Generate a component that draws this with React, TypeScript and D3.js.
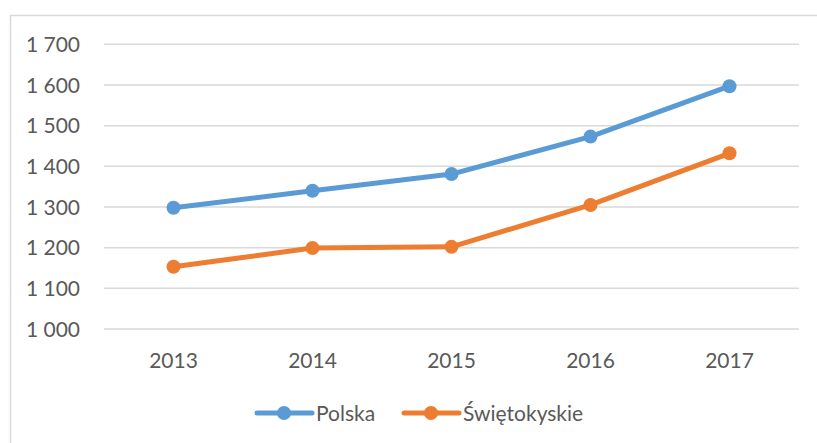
import React from "react";
import * as d3 from "d3";

const years = ["2013", "2014", "2015", "2016", "2017"];
const polska = [1298, 1340, 1381, 1473, 1597];
const swietokrzyskie = [1153, 1199, 1202, 1305, 1432];
const yTicks = [1000, 1100, 1200, 1300, 1400, 1500, 1600, 1700];
const seriesNames = ["Polska", "Świętokyskie"];
const colors = ["#5B9BD5", "#ED7D31"];

const W = 817;
const H = 443;
const plotLeft = 104;
const plotRight = 799;
const yTop = 44.3;
const yBottom = 329;
const FONT = "Lato, 'Open Sans', sans-serif";
const TEXT = "#595959";

export default function App() {
  const x = d3.scaleBand<string>().domain(years).range([plotLeft, plotRight]);
  const y = d3.scaleLinear().domain([1000, 1700]).range([yBottom, yTop]);
  const fmt = (v: number) => d3.format(",")(v).replace(/,/g, " ");
  const line = d3
    .line<number>()
    .x((_, i) => (x(years[i]) as number) + x.bandwidth() / 2)
    .y((d) => y(d));
  const series = [polska, swietokrzyskie];

  const legendItems = [
    { name: seriesNames[0], color: colors[0], x0: 257 },
    { name: seriesNames[1], color: colors[1], x0: 404 },
  ];
  const legendY = 413;

  return (
    <svg
      width={W}
      height={H}
      style={{ position: "absolute", left: 0, top: 0, background: "#fff" }}
    >
      <rect x={0} y={0} width={W} height={H} fill="#fff" />
      <path
        d={`M${W + 5},15.5 H10.5 V${H + 5}`}
        fill="none"
        stroke="#d9d9d9"
        strokeWidth={1.5}
      />
      {yTicks.map((t) => (
        <g key={t}>
          <line
            x1={plotLeft}
            x2={plotRight}
            y1={y(t)}
            y2={y(t)}
            stroke="#d9d9d9"
            strokeWidth={1.5}
          />
          <text
            x={80}
            y={y(t)}
            dy="0.36em"
            textAnchor="end"
            fontFamily={FONT}
            fontSize={21}
            fill={TEXT}
          >
            {fmt(t)}
          </text>
        </g>
      ))}
      {years.map((yr) => (
        <text
          key={yr}
          x={(x(yr) as number) + x.bandwidth() / 2}
          y={368}
          textAnchor="middle"
          fontFamily={FONT}
          fontSize={21}
          fill={TEXT}
        >
          {yr}
        </text>
      ))}
      {series.map((s, si) => (
        <g key={si}>
          <path
            d={line(s) as string}
            fill="none"
            stroke={colors[si]}
            strokeWidth={5}
            strokeLinejoin="round"
            strokeLinecap="round"
          />
          {s.map((v, i) => (
            <circle
              key={i}
              cx={(x(years[i]) as number) + x.bandwidth() / 2}
              cy={y(v)}
              r={7}
              fill={colors[si]}
            />
          ))}
        </g>
      ))}
      {legendItems.map((it) => (
        <g key={it.name}>
          <line
            x1={it.x0}
            x2={it.x0 + 55}
            y1={legendY}
            y2={legendY}
            stroke={it.color}
            strokeWidth={5}
            strokeLinecap="round"
          />
          <circle cx={it.x0 + 27} cy={legendY} r={7} fill={it.color} />
          <text
            x={it.x0 + 59}
            y={legendY}
            dy="0.36em"
            fontFamily={FONT}
            fontSize={21}
            fill={TEXT}
          >
            {it.name}
          </text>
        </g>
      ))}
    </svg>
  );
}
